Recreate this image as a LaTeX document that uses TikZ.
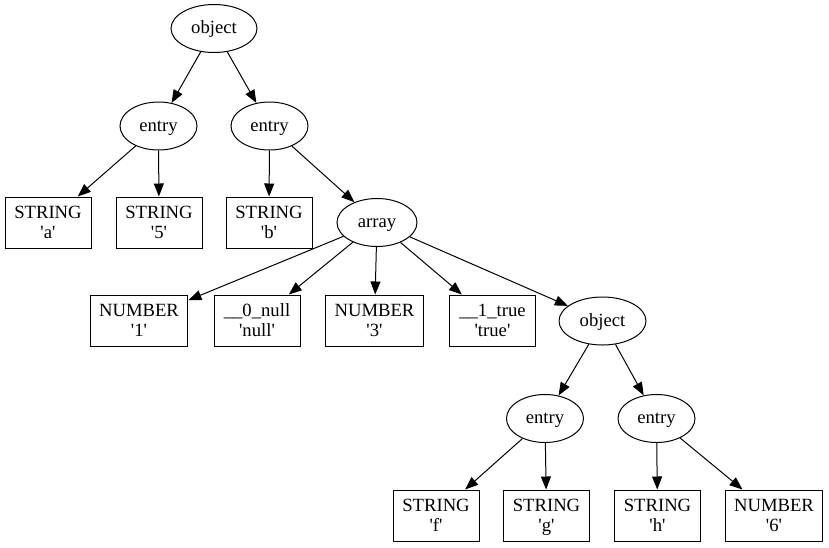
\documentclass[tikz,border=0pt]{standalone}
\usepackage{fontspec}
\setmainfont{Liberation Serif}
\usetikzlibrary{shapes.geometric,arrows.meta}
\newcommand{\sq}[1]{\textquotesingle#1\textquotesingle}

\tikzset{
  leaf/.style={draw, rectangle, align=center, line width=1pt,
    minimum width=86pt, minimum height=51pt, inner xsep=9pt,
    text depth=0pt, font=\fontsize{18.67}{20}\selectfont},
  inner/.style={draw, ellipse, line width=1pt, minimum width=77pt,
    minimum height=48pt, inner sep=0pt, text height=13pt, text depth=3pt,
    font=\fontsize{18.67}{22}\selectfont},
  edge/.style={line width=1pt, -{Triangle[length=13pt,width=10pt]}}
}

\begin{document}
\begin{tikzpicture}[x=1pt, y=-1pt]
\useasboundingbox (0,0) rectangle (829,547);

% ellipses
\node[inner, minimum width=86pt] (obj) at (214,28.5) {object};
\node[inner] (entA) at (158.5,126) {entry};
\node[inner] (entB) at (269.5,126) {entry};
\node[inner, minimum width=80pt] (arr) at (377,222.5) {array};
\node[inner, minimum width=87pt] (objB) at (602.5,321) {object};
\node[inner] (entC) at (545,418.5) {entry};
\node[inner] (entD) at (656.5,418.5) {entry};

% boxes
\node[leaf] (strA) at (48,222.5) {STRING\\\sq{a}};
\node[leaf] (str5) at (159,222.5) {STRING\\\sq{5}};
\node[leaf] (strB) at (269,222.5) {STRING\\\sq{b}};
\node[leaf] (num1) at (139,320.5) {NUMBER\\\sq{1}};
\node[leaf] (null0) at (257,320.5) {\_\_0\_null\\\sq{null}};
\node[leaf] (num3) at (374.5,320.5) {NUMBER\\\sq{3}};
\node[leaf] (true1) at (492.5,320.5) {\_\_1\_true\\\sq{true}};
\node[leaf] (strF) at (436,515.5) {STRING\\\sq{f}};
\node[leaf] (strG) at (546.5,515.5) {STRING\\\sq{g}};
\node[leaf] (strH) at (657.5,515.5) {STRING\\\sq{h}};
\node[leaf] (num6) at (774,515.5) {NUMBER\\\sq{6}};

% edges
\foreach \a/\b in {obj/entA, obj/entB, entA/strA, entA/str5, entB/strB,
    entB/arr, arr/num1, arr/null0, arr/num3, arr/true1, arr/objB,
    objB/entC, objB/entD, entC/strF, entC/strG, entD/strH, entD/num6}
  \draw[edge] (\a) -- (\b);

\end{tikzpicture}
\end{document}
